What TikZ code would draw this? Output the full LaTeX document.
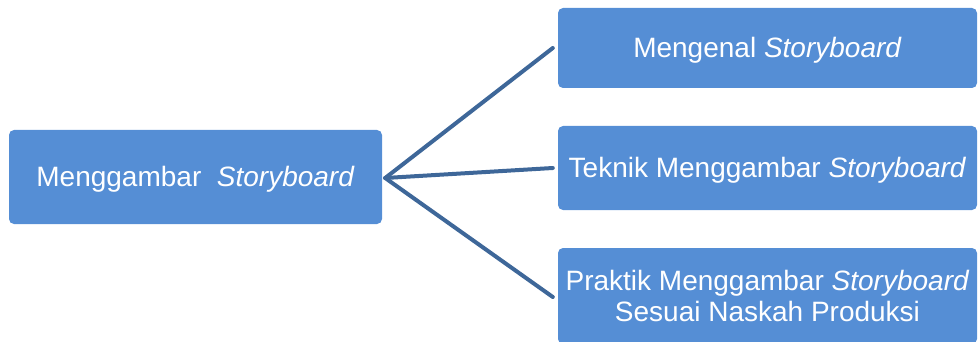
\documentclass[tikz,border=0pt]{standalone}
\usepackage{fontspec}
\setmainfont{Liberation Sans}
\definecolor{boxblue}{HTML}{558ED5}
\definecolor{linkblue}{RGB}{62,103,153}
\begin{document}
\begin{tikzpicture}[x=1pt,y=-1pt,
  bluebox/.style={fill=boxblue, draw=none, rounded corners=5pt, text=white,
    font=\fontsize{28}{31}\selectfont, align=center, inner sep=0pt},
  link/.style={draw=linkblue, line width=4pt, line cap=round}]
\useasboundingbox (0,0) rectangle (979,342);
\node[bluebox, text depth=1pt, minimum width=373pt, minimum height=94pt] (a) at (195.5,177) {Menggambar\ \ \textit{Storyboard}};
\node[bluebox, text depth=1pt, minimum width=419pt, minimum height=80pt] (b1) at (767.5,48) {Mengenal \textit{Storyboard}};
\node[bluebox, text depth=1pt, minimum width=419pt, minimum height=84pt] (b2) at (767.5,168) {Teknik Menggambar \textit{Storyboard}};
\node[bluebox, minimum width=419pt, minimum height=96pt] (b3) at (767.5,296) {Praktik Menggambar \textit{Storyboard}\\Sesuai Naskah Produksi};
\coordinate (apex) at ([xshift=3pt,yshift=-1pt]a.east);
\draw[link] (apex) -- ([xshift=-5pt]b1.west);
\draw[link] (apex) -- ([xshift=-5pt]b2.west);
\draw[link] (apex) -- ([xshift=-5pt,yshift=-1pt]b3.west);
\end{tikzpicture}
\end{document}
